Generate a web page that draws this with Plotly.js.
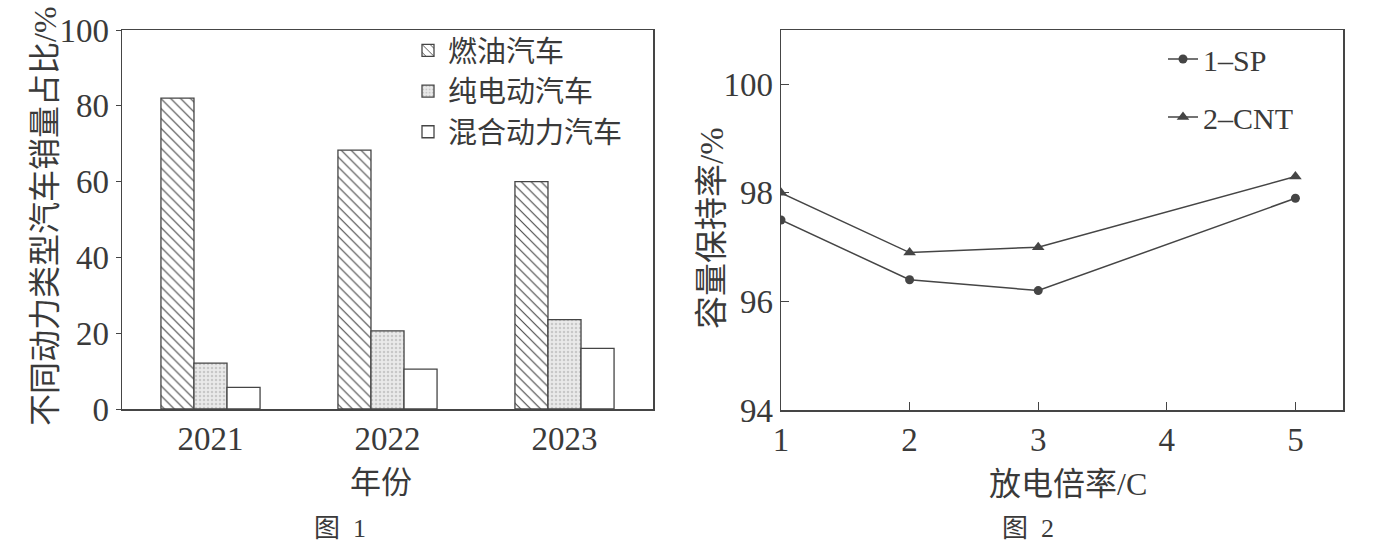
<!DOCTYPE html>
<html><head><meta charset="utf-8">
<script src="https://cdn.plot.ly/plotly-3.0.1.min.js"></script>
<style>html,body{margin:0;padding:0;background:#fff;}#chart{width:1376px;height:552px;}</style>
</head><body><div id="chart"></div>
<script>
// Figure 1 data
const years = ['2021', '2022', '2023'];
const fuelCars = [82.0, 68.3, 60.0];
const electricCars = [12.1, 20.6, 23.6];
const hybridCars = [5.7, 10.5, 16.0];
const barNames = ['燃油汽车', '纯电动汽车', '混合动力汽车'];

// Figure 2 data
const dischargeRate = [1, 2, 3, 5];
const retentionSP = [97.5, 96.4, 96.2, 97.9];
const retentionCNT = [98.0, 96.9, 97.0, 98.3];
const lineNames = ['1–SP', '2–CNT'];

const ink = '#454545';
const txt = '#3a3a3a';
const serif = '"Liberation Serif", "DejaVu Serif", serif';
const cjk = '"Liberation Serif", "Noto Sans CJK SC", serif';
const W = 1376, H = 552;
const px = v => v / W, py = v => 1 - v / H;

const traces = [
  {type:'bar', x:years, y:fuelCars, name:barNames[0], xaxis:'x', yaxis:'y', legend:'legend',
   marker:{color:'#fff', line:{color:ink, width:1.3}, pattern:{shape:'\\', fgcolor:ink, bgcolor:'#fff', size:7, solidity:0.16}}},
  {type:'bar', x:years, y:electricCars, name:barNames[1], xaxis:'x', yaxis:'y', legend:'legend',
   marker:{color:'#e4e4e4', line:{color:ink, width:1.3}, pattern:{shape:'.', fgcolor:'#c8c8c8', bgcolor:'#eaeaea', size:4, solidity:0.3}}},
  {type:'bar', x:years, y:hybridCars, name:barNames[2], xaxis:'x', yaxis:'y', legend:'legend',
   marker:{color:'#fff', line:{color:ink, width:1.3}}},
  {type:'scatter', mode:'lines+markers', x:dischargeRate, y:retentionSP, name:lineNames[0], xaxis:'x2', yaxis:'y2', legend:'legend2',
   line:{color:ink, width:1.5}, marker:{symbol:'circle', size:9, color:ink}},
  {type:'scatter', mode:'lines+markers', x:dischargeRate, y:retentionCNT, name:lineNames[1], xaxis:'x2', yaxis:'y2', legend:'legend3',
   line:{color:ink, width:1.5}, marker:{symbol:'triangle-up', size:11, color:ink}}
];

const tickFont = {family:serif, size:33, color:txt};
const legFont = {family:cjk, size:29, color:txt};
const layout = {
  width:W, height:H, margin:{l:0,r:0,t:0,b:0},
  paper_bgcolor:'#fff', plot_bgcolor:'#fff',
  barmode:'group', bargap:0.44, bargroupgap:0,
  xaxis:{domain:[px(122), px(653)], anchor:'y', type:'category', showline:true, mirror:true, linecolor:ink, linewidth:1.5,
         ticks:'', tickfont:tickFont, showgrid:false, zeroline:false},
  yaxis:{domain:[py(409), py(30)], anchor:'x', range:[0,100], tickvals:[0,20,40,60,80,100], showline:true, mirror:true,
         linecolor:ink, linewidth:1.5, ticks:'outside', ticklen:5, tickcolor:ink, tickfont:tickFont, showgrid:false, zeroline:false},
  xaxis2:{domain:[px(781), px(1343)], anchor:'y2', range:[1, 5.37], tickvals:[1,2,3,4,5], showline:true, mirror:true,
          linecolor:ink, linewidth:1.5, ticks:'inside', ticklen:8, tickcolor:ink, tickfont:tickFont, showgrid:false, zeroline:false},
  yaxis2:{domain:[py(410), py(30)], anchor:'x2', range:[94, 101], tickvals:[94,96,98,100], showline:true, mirror:true,
          linecolor:ink, linewidth:1.5, ticks:'inside', ticklen:8, tickcolor:ink, tickfont:tickFont, showgrid:false, zeroline:false},
  showlegend:true,
  legend:{x:px(408), y:py(25), xanchor:'left', yanchor:'top', bgcolor:'rgba(0,0,0,0)', font:legFont,
          itemwidth:30, traceorder:'normal'},
  legend2:{x:px(1163), y:py(33), xanchor:'left', yanchor:'top', bgcolor:'rgba(0,0,0,0)', font:{family:serif, size:30, color:txt},
           itemwidth:30},
  legend3:{x:px(1163), y:py(91), xanchor:'left', yanchor:'top', bgcolor:'rgba(0,0,0,0)', font:{family:serif, size:30, color:txt},
           itemwidth:30},
  annotations:[
    {text:'不同动力类型汽车销量占比/%', xref:'paper', yref:'paper', x:px(45), y:py(216), textangle:-90, showarrow:false,
     font:{family:cjk, size:32, color:txt}, xanchor:'center', yanchor:'middle'},
    {text:'年份', xref:'paper', yref:'paper', x:px(381), y:py(482), showarrow:false,
     font:{family:cjk, size:31, color:txt}, xanchor:'center', yanchor:'middle'},
    {text:'图  1', xref:'paper', yref:'paper', x:px(340), y:py(528), showarrow:false,
     font:{family:cjk, size:26, color:txt}, xanchor:'center', yanchor:'middle'},
    {text:'容量保持率/%', xref:'paper', yref:'paper', x:px(712), y:py(228), textangle:-90, showarrow:false,
     font:{family:cjk, size:33, color:txt}, xanchor:'center', yanchor:'middle'},
    {text:'放电倍率/C', xref:'paper', yref:'paper', x:px(1068), y:py(484), showarrow:false,
     font:{family:cjk, size:32, color:txt}, xanchor:'center', yanchor:'middle'},
    {text:'图  2', xref:'paper', yref:'paper', x:px(1028), y:py(528), showarrow:false,
     font:{family:cjk, size:26, color:txt}, xanchor:'center', yanchor:'middle'}
  ]
};
Plotly.newPlot('chart', traces, layout, {staticPlot:true, displayModeBar:false});
</script></body></html>
